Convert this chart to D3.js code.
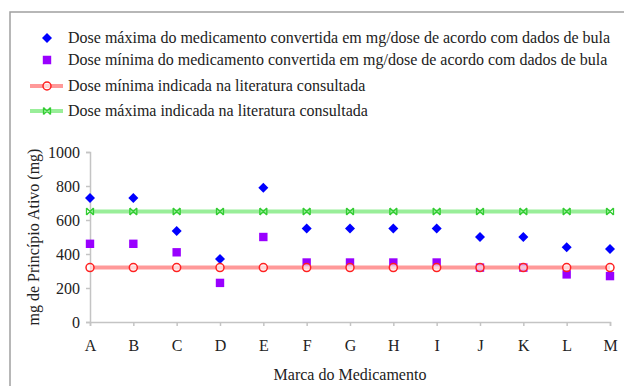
<!DOCTYPE html>
<html><head><meta charset="utf-8">
<script src="https://cdn.jsdelivr.net/npm/d3@7"></script>
<style>
html,body{margin:0;padding:0;background:#fff;}
svg{display:block;}
</style></head>
<body>
<svg id="c" width="624" height="386"></svg>
<script>
const categories = ["A","B","C","D","E","F","G","H","I","J","K","L","M"];
const doseMaxBula = [730,730,535,370,790,550,550,550,550,500,500,440,430];
const doseMinBula = [460,460,410,230,500,350,350,350,350,320,320,280,270];
const doseMinLit = [320,320,320,320,320,320,320,320,320,320,320,320,320];
const doseMaxLit = [650,650,650,650,650,650,650,650,650,650,650,650,650];
const yTicks = [0,200,400,600,800,1000];
const seriesNames = [
  "Dose máxima do medicamento convertida em mg/dose de acordo com dados de bula",
  "Dose mínima do medicamento convertida em mg/dose de acordo com dados de bula",
  "Dose mínima indicada na literatura consultada",
  "Dose máxima indicada na literatura consultada"
];
const yTitle = "mg de Princípio Ativo (mg)";
const xTitle = "Marca do Medicamento";

const FONT = '"Liberation Serif", "Times New Roman", Times, serif';
const svg = d3.select("#c");
svg.append("rect").attr("x",10).attr("y",12).attr("width",640).attr("height",400)
  .attr("fill","none").attr("stroke","#a0a0a0").attr("stroke-width",1.5);

const x = d3.scalePoint().domain(categories).range([90,610]);
const y = d3.scaleLinear().domain([0,1000]).range([322,152]);

const axisColor = "#c4c4c4";
const gy = svg.append("g").attr("transform","translate(90,0)")
  .call(d3.axisLeft(y).tickValues(yTicks).tickSize(4).tickPadding(6).tickFormat(d3.format("d")));
const gx = svg.append("g").attr("transform","translate(0,322)")
  .call(d3.axisBottom(x).tickSize(4).tickPadding(14));
[gx,gy].forEach(g=>{
  g.attr("font-family",null).attr("font-size",null);
  g.selectAll("path,line").attr("stroke",axisColor).attr("stroke-width",1.5);
  g.selectAll("text").style("font-family",FONT).style("font-size","16px").attr("fill","#222");
});

svg.append("text").attr("transform","translate(39,237) rotate(-90)")
  .attr("text-anchor","middle").style("font-family",FONT).style("font-size","16px").attr("fill","#222").text(yTitle);
svg.append("text").attr("x",350).attr("y",380).attr("text-anchor","middle")
  .style("font-family",FONT).style("font-size","16px").attr("fill","#222").text(xTitle);

function diamondPath(cx,cy){const s=5;return `M${cx},${cy-s}L${cx+s},${cy}L${cx},${cy+s}L${cx-s},${cy}Z`;}
function squarePath(cx,cy){const s=4.2;return `M${cx-s},${cy-s}h${2*s}v${2*s}h${-2*s}Z`;}
function drawX(g, cx, cy){
  const s=3.5;
  g.append("path").attr("d",`M${cx-s},${cy-s}L${cx+s},${cy+s}M${cx-s},${cy+s}L${cx+s},${cy-s}M${cx-s},${cy-s}L${cx-s},${cy+s}M${cx+s},${cy-s}L${cx+s},${cy+s}`)
    .attr("stroke","#33cc33").attr("stroke-width",1.3).attr("fill","none");
}

svg.append("g").selectAll("path").data(doseMaxBula).join("path")
  .attr("d",(d,i)=>diamondPath(x(categories[i]),y(d))).attr("fill","#0000ff");
svg.append("g").selectAll("path").data(doseMinBula).join("path")
  .attr("d",(d,i)=>squarePath(x(categories[i]),y(d))).attr("fill","#9900ff");

const line = d3.line().x((d,i)=>x(categories[i])).y(d=>y(d));
svg.append("path").datum(doseMinLit).attr("d",line).attr("fill","none")
  .attr("stroke","#ff8080").attr("stroke-opacity",0.8).attr("stroke-width",4);
svg.append("g").selectAll("circle").data(doseMinLit).join("circle")
  .attr("cx",(d,i)=>x(categories[i])).attr("cy",d=>y(d)).attr("r",4)
  .attr("fill","#ffffff").attr("fill-opacity",0.6).attr("stroke","#ff2020").attr("stroke-width",1.5);
svg.append("path").datum(doseMaxLit).attr("d",line).attr("fill","none")
  .attr("stroke","#99ee99").attr("stroke-width",4);
const gg = svg.append("g");
doseMaxLit.forEach((d,i)=>drawX(gg,x(categories[i]),y(d)));

const ly = [38,60,86,111];
const lx = 47;
const lg = svg.append("g");
lg.append("path").attr("d",diamondPath(lx,ly[0])).attr("fill","#0000ff");
lg.append("path").attr("d",squarePath(lx,ly[1])).attr("fill","#9900ff");
lg.append("line").attr("x1",30).attr("x2",63).attr("y1",ly[2]).attr("y2",ly[2])
  .attr("stroke","#ff8080").attr("stroke-opacity",0.8).attr("stroke-width",4);
lg.append("circle").attr("cx",lx).attr("cy",ly[2]).attr("r",4).attr("fill","#fff").attr("fill-opacity",0.6)
  .attr("stroke","#ff2020").attr("stroke-width",1.5);
lg.append("line").attr("x1",30).attr("x2",63).attr("y1",ly[3]).attr("y2",ly[3])
  .attr("stroke","#99ee99").attr("stroke-width",4);
drawX(lg,lx,ly[3]);
seriesNames.forEach((n,i)=>{
  lg.append("text").attr("x",68).attr("y",ly[i]+5).style("font-family",FONT).style("font-size","16px")
    .attr("fill","#222").text(n);
});
</script>
</body></html>
